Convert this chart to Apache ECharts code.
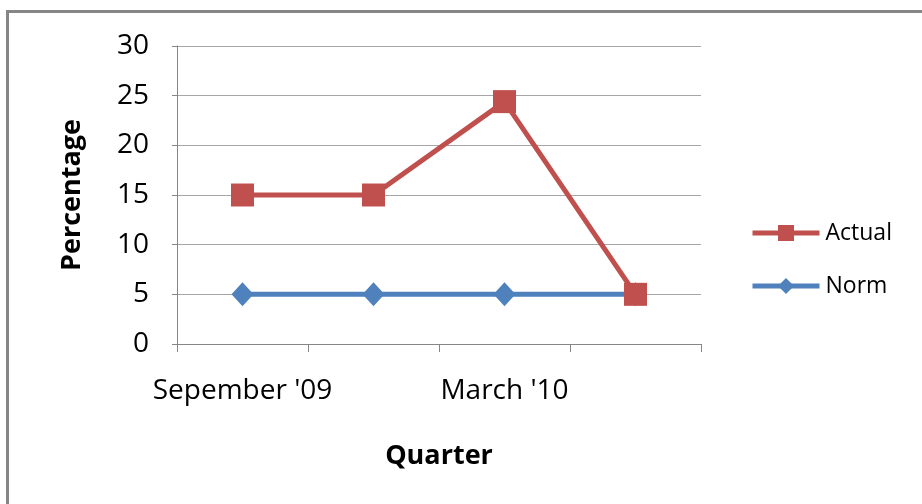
<!DOCTYPE html>
<html>
<head>
<meta charset="utf-8">
<script src="https://cdn.jsdelivr.net/npm/echarts@6/dist/echarts.min.js"></script>
<style>
html,body{margin:0;padding:0;background:#fff;}
#chart{width:922px;height:504px;}
</style>
</head>
<body>
<div id="chart"></div>
<script>
var categories = ["Sepember '09", "December '09", "March '10", "June '10"];
var actualValues = [15, 15, 24.4, 5];
var normValues = [5, 5, 5, 5];
var yTicks = [0, 5, 10, 15, 20, 25, 30];

var FONT = 'Open Sans';
var chart = echarts.init(document.getElementById('chart'), null, {renderer: 'canvas'});
chart.setOption({
  animation: false,
  backgroundColor: '#fff',
  graphic: [{
    type: 'rect',
    shape: {x: 7.5, y: 11.5, width: 1200, height: 1200},
    style: {fill: 'none', stroke: '#868686', lineWidth: 3},
    silent: true
  }],
  grid: {left: 177, right: 221, top: 46, bottom: 160, containLabel: false},
  legend: {
    orient: 'vertical',
    left: 745,
    top: 216,
    itemWidth: 67,
    itemHeight: 20,
    itemGap: 29,
    lineStyle: {width: 5},
    textStyle: {fontFamily: FONT, fontSize: 23, lineHeight: 24, color: '#000', padding: [0,0,0,1]},
    data: ['Actual', 'Norm']
  },
  xAxis: {
    type: 'category',
    data: categories,
    boundaryGap: true,
    name: 'Quarter',
    nameLocation: 'middle',
    nameGap: 99,
    nameTextStyle: {fontFamily: FONT, fontSize: 27, fontWeight: 'bold', color: '#000'},
    axisLine: {lineStyle: {color: '#868686', width: 1}},
    axisTick: {show: true, interval: 0, length: 8, lineStyle: {color: '#868686'}},
    axisLabel: {interval: 1, margin: 33, fontFamily: FONT, fontSize: 28, color: '#000'},
    splitLine: {show: false}
  },
  yAxis: {
    type: 'value',
    min: yTicks[0],
    max: yTicks[yTicks.length - 1],
    interval: yTicks[1] - yTicks[0],
    name: 'Percentage',
    nameLocation: 'middle',
    nameGap: 91,
    nameRotate: 90,
    nameTextStyle: {fontFamily: FONT, fontSize: 27, fontWeight: 'bold', color: '#000'},
    axisLine: {show: true, lineStyle: {color: '#868686', width: 1}},
    axisTick: {show: true, length: 5, lineStyle: {color: '#868686'}},
    axisLabel: {margin: 28, fontFamily: FONT, fontSize: 28, color: '#000'},
    splitLine: {show: true, lineStyle: {color: '#a6a6a6', width: 1}}
  },
  series: [{
    name: 'Actual',
    type: 'line',
    data: actualValues,
    z: 3,
    symbol: 'rect',
    symbolSize: 23,
    itemStyle: {color: '#C0504D'},
    lineStyle: {color: '#C0504D', width: 5}
  }, {
    name: 'Norm',
    type: 'line',
    data: normValues,
    z: 2,
    symbol: 'diamond',
    symbolSize: [22, 24],
    itemStyle: {color: '#4F81BD'},
    lineStyle: {color: '#4F81BD', width: 5}
  }]
});
</script>
</body>
</html>
